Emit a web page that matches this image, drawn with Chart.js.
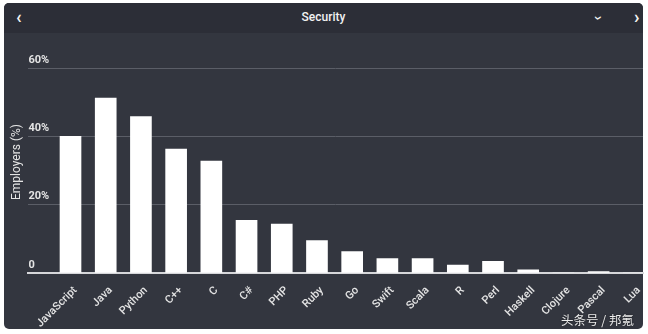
<!DOCTYPE html>
<html>
<head>
<meta charset="utf-8">
<script src="https://cdn.jsdelivr.net/npm/chart.js@4/dist/chart.umd.min.js"></script>
<style>
  html, body { margin: 0; padding: 0; background: #ffffff; width: 648px; height: 334px; overflow: hidden; }
  #panel { position: absolute; left: 4px; top: 3px; width: 639px; height: 326px; background: #33363f; border-radius: 5px; overflow: hidden; }
  #header { position: absolute; left: 0; top: 0; width: 639px; height: 30px; background: #2c2e37; }
  .htext { position: absolute; color: #f2f2f2; font-family: Roboto, "Noto Sans", sans-serif; }
  #title { left: 0; width: 639px; top: 7px; text-align: center; font-size: 12px; font-weight: 500; }
  #prev { left: 12px; top: 3px; font-size: 18px; font-weight: 700; }
  #next { left: 630px; top: 3px; font-size: 18px; font-weight: 700; }
  #down { left: 593px; top: 6px; font-size: 15px; font-weight: 700; transform: rotate(90deg); }
  #mark { position: absolute; left: 561px; top: 310px; color: #ececec; font-family: "Noto Sans CJK SC", sans-serif; font-size: 12.5px; text-shadow: 0 0 2px rgba(0,0,0,0.6); }
  #c { position: absolute; left: 0; top: 0; }
</style>
</head>
<body>
<div id="panel">
  <div id="header">
    <span class="htext" id="prev">‹</span>
    <span class="htext" id="title">Security</span>
    <span class="htext" id="down">›</span>
    <span class="htext" id="next">›</span>
  </div>
</div>
<canvas id="c" width="648" height="334"></canvas>
<div id="mark">头条号 / 邦氪</div>
<script>
const categories = ["JavaScript", "Java", "Python", "C++", "C", "C#", "PHP", "Ruby", "Go", "Swift", "Scala", "R", "Perl", "Haskell", "Clojure", "Pascal", "Lua"];
const employers = [40, 51.2, 45.8, 36.3, 32.8, 15.4, 14.3, 9.5, 6.3, 4.2, 4.2, 2.3, 3.4, 0.9, 0, 0.4, 0];
const yTicks = [0, 20, 40, 60];
const yTitle = "Employers (%)";

const points = categories.map((c, i) => ({ x: i, y: employers[i] }));

new Chart(document.getElementById('c'), {
  type: 'bar',
  data: {
    datasets: [{
      data: points,
      backgroundColor: '#ffffff',
      borderWidth: 0,
      barThickness: 21
    }]
  },
  options: {
    responsive: false,
    animation: false,
    events: [],
    layout: { padding: { left: 6, right: 5, top: 51, bottom: 3 } },
    plugins: { legend: { display: false }, tooltip: { enabled: false } },
    scales: {
      x: {
        type: 'linear',
        offset: false,
        min: -1.196,
        max: 16.26,
        grid: { display: false, offset: false },
        border: { display: true, color: '#d6d7da', width: 2 },
        afterBuildTicks: (scale) => { scale.ticks = categories.map((_, i) => ({ value: i })); },
        afterFit: (scale) => { scale.height = 58; },
        ticks: {
          autoSkip: false,
          maxRotation: 45,
          minRotation: 45,
          padding: 3,
          labelOffset: 5,
          color: '#e4e4e4',
          font: { family: 'Roboto', size: 11, weight: '500' },
          callback: (v) => categories[v]
        }
      },
      y: {
        min: 0,
        max: 65,
        afterBuildTicks: (scale) => { scale.ticks = yTicks.map(v => ({ value: v })); },
        grid: { color: '#5b5e67', lineWidth: 1, drawTicks: false },
        border: { display: false },
        title: {
          display: true,
          text: yTitle,
          color: '#e4e4e4',
          font: { family: 'Roboto', size: 12 },
          padding: { top: 4, bottom: 4 }
        },
        ticks: {
          mirror: true,
          padding: 0,
          labelOffset: -8,
          color: '#e4e4e4',
          font: { family: 'Roboto', size: 11, weight: 'bold' },
          callback: (v) => v === 0 ? '0' : v + '%'
        }
      }
    }
  }
});
</script>
</body>
</html>
